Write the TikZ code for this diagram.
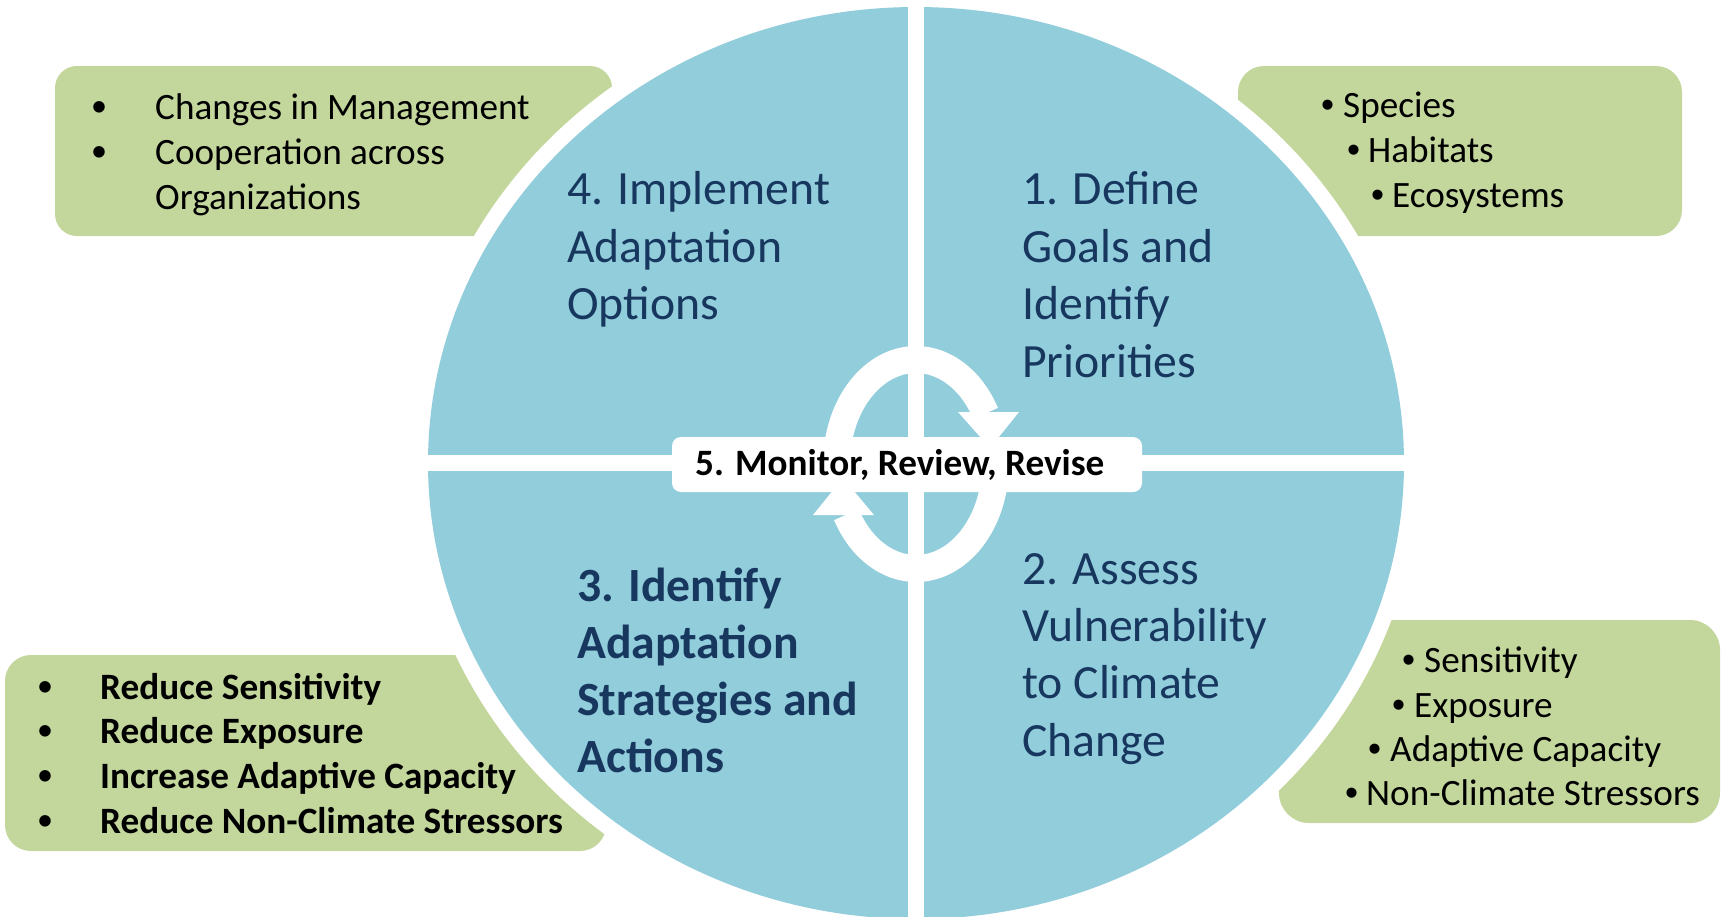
\documentclass[tikz,border=0pt]{standalone}
\usepackage{fontspec}
\setmainfont{Carlito}
\newfontfamily\bulletfont{Liberation Sans}
\definecolor{blueq}{HTML}{92CDDC}
\definecolor{greenb}{HTML}{C3D69B}
\definecolor{navy}{HTML}{17375E}
\begin{document}
\begin{tikzpicture}[x=1pt,y=-1pt,
  lbl/.style={anchor=base west, inner sep=0pt, text=black, font=\fontsize{37.2}{44.7}\selectfont},
  blbl/.style={anchor=base west, inner sep=0pt, text=black, font=\fontsize{37.2}{44.7}\selectfont\bfseries},
  bul/.style={anchor=base west, inner sep=0pt, text=black, font=\bulletfont\fontsize{37.2}{44.7}\selectfont},
  bigbul/.style={anchor=base west, inner sep=0pt, text=black, font=\bulletfont\fontsize{40}{44.7}\selectfont\bfseries},
  qlbl/.style={anchor=base west, inner sep=0pt, text=navy, font=\fontsize{47.7}{57.5}\selectfont},
  bqlbl/.style={anchor=base west, inner sep=0pt, text=navy, font=\fontsize{47.7}{57.5}\selectfont\bfseries},
  ringarc/.style={draw=white, line width=27pt},
  greenbox/.style={fill=greenb},
]
\useasboundingbox (0,0) rectangle (1721,916);
\fill[white] (0,0) rectangle (1721,916);

% green boxes
\fill[greenbox, rounded corners=22pt] (55,66) rectangle (612,236);
\fill[greenbox, rounded corners=26pt] (1238,66) rectangle (1682,236);
\fill[greenbox, rounded corners=26pt] (5,655) rectangle (606,851);
\fill[greenbox, rounded corners=30pt] (1279,620) rectangle (1720,823);

% white margin and blue disc
\coordinate (c) at (916,463);
\fill[white] (c) ellipse [x radius=504, y radius=472];
\fill[blueq] (c) ellipse [x radius=488, y radius=456];
\fill[white] (908,-5) rectangle (924,925);
\fill[white] (420,455) rectangle (1412,471);

% circular arrows
\draw[ringarc] (836.5,464) arc[start angle=180, end angle=331, x radius=79.5, y radius=104.5];
\draw[ringarc] (995.5,464) arc[start angle=0, end angle=151, x radius=79.5, y radius=104.5];
\fill[white] (958,412) -- (1019,412) -- (990,448) -- cycle;
\fill[white] (874,515) -- (813,515) -- (843,478) -- cycle;

% centre label
\node[fill=white, rounded corners=9pt, minimum width=470pt, minimum height=55pt, inner sep=0pt] (mbox) at (907,464.5) {};
\node[blbl] (mtext) at (695,475) {5. Monitor, Review, Revise};

% quadrant texts
\node[qlbl] (q4a) at (567,204) {4. Implement};
\node[qlbl] (q4b) at (567,262) {Adaptation};
\node[qlbl] (q4c) at (567,319) {Options};

\node[qlbl] (q1a) at (1022,204) {1. Define};
\node[qlbl] (q1b) at (1022,262) {Goals and};
\node[qlbl] (q1c) at (1022,319) {Identify};
\node[qlbl] (q1d) at (1022,377) {Priorities};

\node[bqlbl] (q3a) at (577,601) {3. Identify};
\node[bqlbl] (q3b) at (577,658) {Adaptation};
\node[bqlbl] (q3c) at (577,715) {Strategies and};
\node[bqlbl] (q3d) at (577,772) {Actions};

\node[qlbl] (q2a) at (1022,584) {2. Assess};
\node[qlbl] (q2b) at (1022,641) {Vulnerability};
\node[qlbl] (q2c) at (1022,698) {to Climate};
\node[qlbl] (q2d) at (1022,756) {Change};

% top-left box
\node[bigbul] (tlb1) at (92,120) {•};
\node[lbl] (tlt1) at (155,119) {Changes in Management};
\node[bigbul] (tlb2) at (92,165) {•};
\node[lbl] (tlt2) at (155,164) {Cooperation across};
\node[lbl] (tlt3) at (155,209) {Organizations};

% top-right box
\node[bul] (trb1) at (1321,117) {•};
\node[lbl] (trt1) at (1343,117) {Species};
\node[bul] (trb2) at (1347,162) {•};
\node[lbl] (trt2) at (1368,162) {Habitats};
\node[bul] (trb3) at (1371,207) {•};
\node[lbl] (trt3) at (1392,207) {Ecosystems};

% bottom-left box
\node[bigbul] (blb1) at (38,700) {•};
\node[blbl] (blt1) at (100,699) {Reduce Sensitivity};
\node[bigbul] (blb2) at (38,744) {•};
\node[blbl] (blt2) at (100,743) {Reduce Exposure};
\node[bigbul] (blb3) at (38,789) {•};
\node[blbl] (blt3) at (100,788) {Increase Adaptive Capacity};
\node[bigbul] (blb4) at (38,834) {•};
\node[blbl] (blt4) at (100,833) {Reduce Non-Climate Stressors};

% bottom-right box
\node[bul] (brb1) at (1402,672) {•};
\node[lbl] (brt1) at (1424,672) {Sensitivity};
\node[bul] (brb2) at (1392,717) {•};
\node[lbl] (brt2) at (1414,717) {Exposure};
\node[bul] (brb3) at (1368,761) {•};
\node[lbl] (brt3) at (1390,761) {Adaptive Capacity};
\node[bul] (brb4) at (1345,805) {•};
\node[lbl] (brt4) at (1366,805) {Non-Climate Stressors};
\end{tikzpicture}
\end{document}
